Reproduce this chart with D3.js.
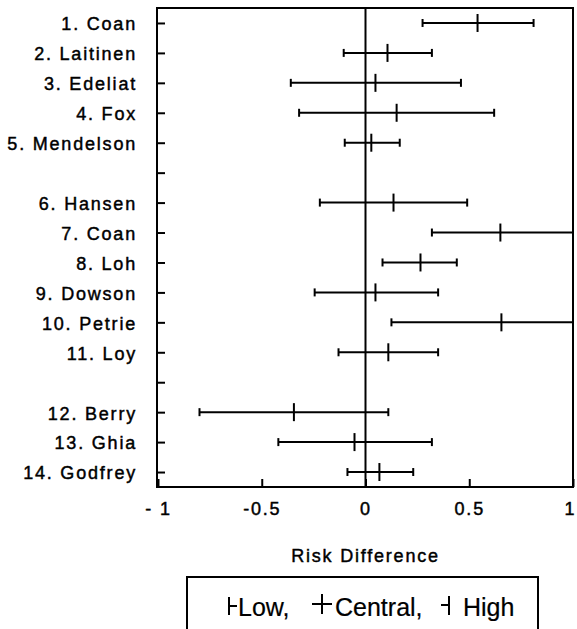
<!DOCTYPE html>
<html>
<head>
<meta charset="utf-8">
<script src="https://cdn.jsdelivr.net/npm/d3@7"></script>
<style>
  body { margin: 0; background: #fff; }
  svg text { font-family: "Liberation Sans", Arial, sans-serif; font-size: 18px; fill: #000; letter-spacing: 1.8px; stroke: #000; stroke-width: 0.45px; }
  svg .legend text { font-size: 25px; letter-spacing: 0; stroke-width: 0.2px; }
</style>
</head>
<body>
<svg class="forest" width="577" height="629"></svg>
<script>
// study names, in plot order
var studies = ["1. Coan", "2. Laitinen", "3. Edeliat", "4. Fox", "5. Mendelson",
               "6. Hansen", "7. Coan", "8. Loh", "9. Dowson", "10. Petrie", "11. Loy",
               "12. Berry", "13. Ghia", "14. Godfrey"];
// how many studies in each block (an empty row between blocks)
var groupSizes = [5, 6, 3];
// risk differences
var low     = [0.275, -0.105, -0.36, -0.32, -0.10, -0.22, 0.32, 0.082, -0.245, 0.125, -0.13, -0.80, -0.42, -0.087];
var central = [0.54, 0.106, 0.048, 0.15, 0.028, 0.135, 0.65, 0.265, 0.048, 0.655, 0.11, -0.345, -0.053, 0.067];
var high    = [0.81, 0.32, 0.46, 0.62, 0.165, 0.49, 1.0, 0.44, 0.35, 1.0, 0.35, 0.11, 0.32, 0.23];
var xTicks = [-1, -0.5, 0, 0.5, 1];
var xTickLabels = ["- 1", "-0.5", "0", "0.5", "1"];

var svg = d3.select(".forest");

var margin = {top: 8, left: 157, right: 4, bottom: 142},
    width = svg.attr("width") - margin.left - margin.right,
    height = svg.attr("height") - margin.top - margin.bottom;

// rows: studies plus blank separators
var slots = [], labels = {}, k = 0;
groupSizes.forEach(function(n, gi) {
  if (gi > 0) { slots.push("gap" + gi); labels["gap" + gi] = ""; }
  for (var i = 0; i < n; i++) { slots.push("s" + k); labels["s" + k] = studies[k]; k++; }
});

var data = studies.map(function(s, i) {
  return {slot: "s" + i, low: low[i], central: central[i], high: high[i]};
});

var g = svg.append("g")
    .attr("transform", "translate(" + margin.left + "," + margin.top + ")");

var x = d3.scaleLinear().domain([-1, 1]).range([1, width]);
var y = d3.scalePoint().domain(slots).range([0, height]).padding(0.5);

// x axis
var xAxis = d3.axisBottom(x)
    .tickValues(xTicks)
    .tickFormat(function(d, i) { return xTickLabels[i]; })
    .tickSizeInner(-8)
    .tickSizeOuter(0)
    .tickPadding(15);

g.append("g")
    .attr("class", "x axis")
    .attr("transform", "translate(0," + height + ")")
    .call(xAxis)
    .call(function(a) { a.select(".domain").remove(); })
    .call(function(a) { a.selectAll("line").attr("stroke-width", 2); })
    .selectAll("text")
    .attr("font-family", null).attr("font-size", null)
    .attr("dx", function(d, i) { return i == xTicks.length - 1 ? -3 : 0; });

// y axis
var yAxis = d3.axisLeft(y)
    .tickFormat(function(d) { return labels[d]; })
    .tickSizeInner(-8)
    .tickSizeOuter(0)
    .tickPadding(20);

g.append("g")
    .attr("class", "y axis")
    .call(yAxis)
    .call(function(a) { a.select(".domain").remove(); })
    .call(function(a) { a.selectAll("line").attr("stroke-width", 2); })
    .selectAll("text").attr("font-family", null).attr("font-size", null).attr("dy", "0.38em");

// frame
g.append("rect")
    .attr("width", width)
    .attr("height", height)
    .attr("fill", "none")
    .attr("stroke", "#000")
    .attr("stroke-width", 2);

// zero line
g.append("line")
    .attr("x1", x(0)).attr("x2", x(0))
    .attr("y1", 0).attr("y2", height)
    .attr("stroke", "#000")
    .attr("stroke-width", 2);

//bars
var bars = g.selectAll(".bar")
    .data(data)
    .enter().append("g")
    .attr("class", "bar")
    .attr("transform", function(d) { return "translate(0," + y(d.slot) + ")"; })
    .attr("stroke", "#000")
    .attr("stroke-width", 2);

bars.append("line")
    .attr("x1", function(d) { return x(d.low); })
    .attr("x2", function(d) { return x(d.high); });
bars.append("line")
    .attr("x1", function(d) { return x(d.low); })
    .attr("x2", function(d) { return x(d.low); })
    .attr("y1", -4).attr("y2", 4);
bars.append("line")
    .attr("x1", function(d) { return x(d.high); })
    .attr("x2", function(d) { return x(d.high); })
    .attr("y1", -4).attr("y2", 4);
bars.append("line")
    .attr("x1", function(d) { return x(d.central); })
    .attr("x2", function(d) { return x(d.central); })
    .attr("y1", -9).attr("y2", 9);

// x title
svg.append("text")
    .attr("x", margin.left + x(0))
    .attr("y", 562)
    .attr("text-anchor", "middle")
    .text("Risk Difference");

// legend
var leg = svg.append("g").attr("class", "legend");
leg.append("rect")
    .attr("x", 187).attr("y", 577)
    .attr("width", 351).attr("height", 80)
    .attr("fill", "none").attr("stroke", "#000").attr("stroke-width", 2);

leg.append("path")
    .attr("d", "M229,597V615M229,606H237")
    .attr("stroke", "#000").attr("stroke-width", 2).attr("fill", "none");
leg.append("text").attr("x", 238).attr("y", 616).text("Low,");
leg.append("path")
    .attr("d", "M312,604H332M322,594V614")
    .attr("stroke", "#000").attr("stroke-width", 2).attr("fill", "none");
leg.append("text").attr("x", 335).attr("y", 616).text("Central,");
leg.append("path")
    .attr("d", "M441,605H449M449,596V615")
    .attr("stroke", "#000").attr("stroke-width", 2).attr("fill", "none");
leg.append("text").attr("x", 463).attr("y", 616).text("High");
</script>
</body>
</html>
